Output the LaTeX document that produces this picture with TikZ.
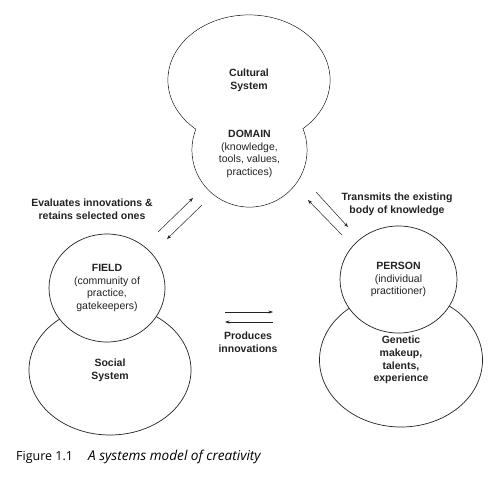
\documentclass[tikz,border=0pt]{standalone}
\usepackage{fontspec}
\setmainfont{Liberation Sans}
\newfontfamily\capfont{Open Sans}
\usetikzlibrary{arrows.meta,positioning,shapes.geometric}
\definecolor{ink}{HTML}{222222}
\newcommand{\diagfont}{\fontsize{10.5}{12.8}\selectfont}
\tikzset{
  sysbox/.style={ellipse, draw=ink, fill=white, line width=0.7pt, inner sep=0pt,
                 align=center, font=\diagfont\bfseries, text=ink},
  corebox/.style={sysbox, font=\diagfont},
  lbl/.style={font=\diagfont\bfseries, text=ink, align=center},
  txt/.style={font=\diagfont, text=ink, align=center},
  flow/.style={-{Stealth[length=4.5pt,width=3.2pt]}, draw=ink, line width=0.5pt},
  capt/.style={font=\capfont\fontsize{12.5}{14}\selectfont, text=black, anchor=base west, inner sep=0pt}
}

\begin{document}
\begin{tikzpicture}[x=1pt, y=-1pt]
 \useasboundingbox (0,0) rectangle (497,479);
 \node[sysbox, minimum width=162pt, minimum height=130pt] (cultural) at (249,80) {};
 \node[corebox, minimum width=115pt, minimum height=114pt] (domain) at (249.5,150) {};
 \fill[white] (cultural.center) ellipse [x radius=80.6pt, y radius=64.6pt];
 \fill[white] (domain.center) ellipse [x radius=57.1pt, y radius=56.6pt];
 \node[lbl] (culturaltxt) at (cultural.center) {Cultural\\System};
 \node[txt] (domaintxt) at ([yshift=-4pt]domain.center) {\textbf{DOMAIN}\\(knowledge,\\tools, values,\\practices)};

 \node[sysbox, minimum width=162pt, minimum height=130pt] (social) at (110,370) {Social\\System};
 \node[corebox, minimum width=116pt, minimum height=108pt] (field) at (107,288) {\textbf{FIELD}\\(community of\\practice,\\gatekeepers)};

 \node[sysbox, minimum width=163pt, minimum height=134pt] (genetic) at (401,360) {Genetic\\makeup,\\talents,\\experience};
 \node[corebox, minimum width=117pt, minimum height=107pt] (person) at (398.5,279.5) {\textbf{PERSON}\\(individual\\practitioner)};

 \coordinate (fd1) at (158,232);
 \coordinate (fd2) at (193,198);
 \coordinate (df1) at (202,205);
 \coordinate (df2) at (167,239);
 \coordinate (dp1) at (316,192);
 \coordinate (dp2) at (348,227);
 \coordinate (pd1) at (342,235);
 \coordinate (pd2) at (308,200);
 \coordinate (pf1) at (225,312);
 \coordinate (pf2) at (273,312);
 \coordinate (fp1) at (273,322);
 \coordinate (fp2) at (225,322);
 \draw[flow] (fd1) -- (fd2);
 \draw[flow] (df1) -- (df2);
 \draw[flow] (dp1) -- (dp2);
 \draw[flow] (pd1) -- (pd2);
 \draw[flow] (pf1) -- (pf2);
 \draw[flow] (fp1) -- (fp2);

 \node[lbl] (evaluates) at (92,209) {Evaluates innovations \&\\retains selected ones};
 \node[lbl] (transmits) at (397,204.5) {Transmits the existing\\body of knowledge};
 \node[lbl] (produces) at (248,342.5) {Produces\\innovations};

 \node[capt] (figno) at (16,460) {Figure 1.1};
 \node[capt, font=\capfont\fontsize{13.6}{14}\selectfont] (figtitle) at (88,460) {\itshape A systems model of creativity};
\end{tikzpicture}
\end{document}
